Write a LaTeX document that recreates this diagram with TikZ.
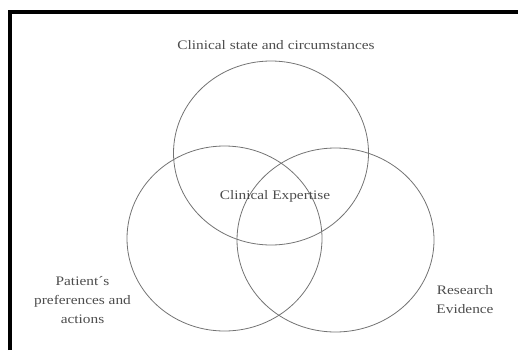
\documentclass[tikz,border=0pt]{standalone}
\usepackage{fontspec}
\setmainfont{Liberation Serif}[FakeStretch=1.18]
\usepackage{tikz}

\begin{document}
\begin{tikzpicture}[x=1pt,y=-1pt]
	\useasboundingbox (0,0) rectangle (518,350);
	\tikzset{ring/.style={draw=black!55,line width=0.8pt},
		lbl/.style={text=black!70,font=\fontsize{13}{19}\selectfont,align=center,inner sep=0pt}}
	% frame
	\draw[line width=4pt] (10,350) -- (10,12.5) -- (518,12.5);

	\draw[ring] (271,153) ellipse (97.5 and 92);
	\draw[ring] (224.5,238.5) ellipse (97.5 and 92.5);
	\draw[ring] (335.5,240) ellipse (98.5 and 92);

	\node[lbl] (state) at (276,45) {Clinical state and circumstances};
	\node[lbl] (expert) at (275,196) {Clinical Expertise};
	\node[lbl] (patient) at (82.5,300) {Patient´s\\preferences and\\actions};
	\node[lbl] (research) at (465,300) {Research\\Evidence};
\end{tikzpicture}
\end{document}
